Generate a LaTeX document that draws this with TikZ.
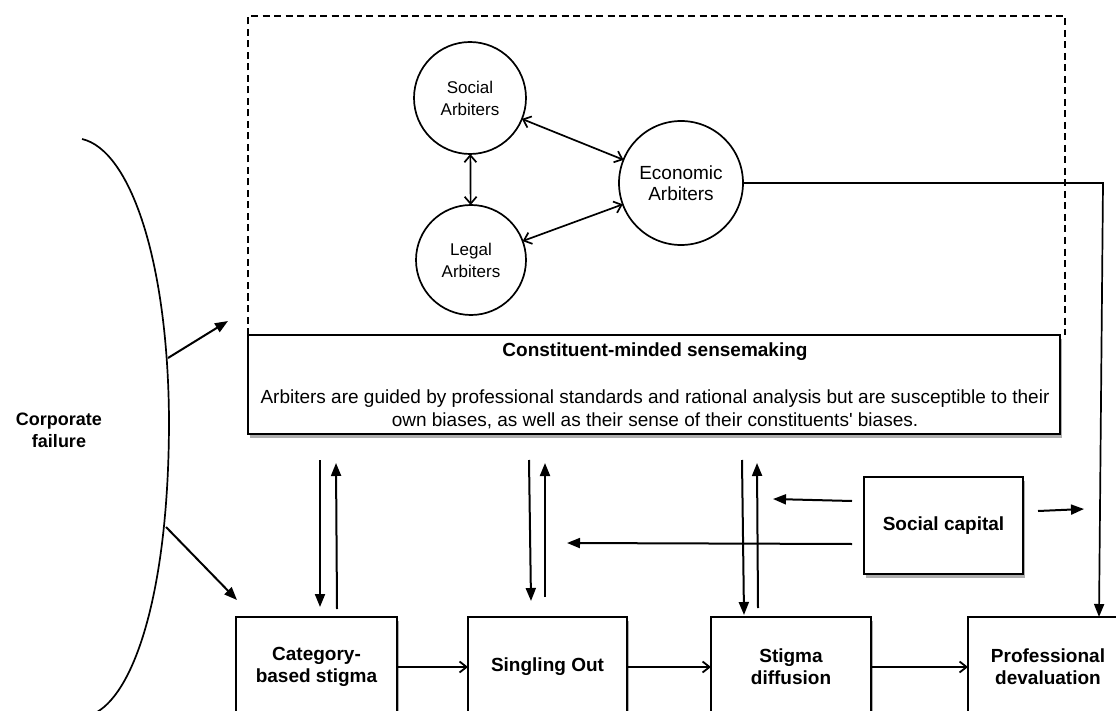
\documentclass[tikz,border=0pt]{standalone}
\usepackage{fontspec}
\setmainfont{Liberation Sans}
\usetikzlibrary{arrows.meta,shadows}
\begin{document}
\begin{tikzpicture}[x=1pt,y=-1pt,
  every node/.style={inner sep=0pt, outer sep=0pt},
  arbiter/.style={circle, draw, line width=1.7pt, minimum size=#1, align=center,
    font=\fontsize{17}{22}\selectfont},
  softshadow/.style={drop shadow={shadow xshift=2pt, shadow yshift=-3.5pt, opacity=0.45, fill=black!70}},
  block/.style={rectangle, draw, line width=2.2pt, fill=white, softshadow,
    minimum width=#1, minimum height=100pt, align=center,
    font=\bfseries\fontsize{19}{22}\selectfont},
  twoway/.style={{Straight Barb[length=7pt,width=12pt]}-{Straight Barb[length=7pt,width=12pt]}, line width=1.7pt},
  feed/.style={-{Triangle[length=13pt,width=10pt]}, line width=2pt},
  flow/.style={-{Straight Barb[length=7pt,width=11pt]}, line width=1.8pt},
  frame/.style={line width=1.9pt, dash pattern=on 7pt off 4.5pt},
]
\clip (0,0) rectangle (1116,711);
\fill[white] (0,0) rectangle (1116,711);

% arbiters
\node[arbiter=112pt] (soc) at (470,98) {Social\\Arbiters};
\node[arbiter=110pt] (leg) at (471,260) {Legal\\Arbiters};
\node[arbiter=124pt, font=\fontsize{19}{21.5}\selectfont] (eco) at (681,183) {Economic\\Arbiters};
\draw[twoway] (soc) -- (leg);
\draw[twoway] (soc) -- (eco);
\draw[twoway] (leg) -- (eco);

% sensemaking box with dashed frame above it
\node[rectangle, draw, line width=2.2pt, fill=white, softshadow,
  minimum width=812pt, minimum height=99pt, anchor=north west] (sense) at (248,335) {};
\draw[frame] (sense.north west) -- (248,16) -- (1065,16) -- (1065,335);
\node[font=\bfseries\fontsize{19}{21}\selectfont] (head) at (655,352) {Constituent-minded sensemaking};
\node[align=center, font=\fontsize{19}{23}\selectfont] (body) at (655,409)
  {Arbiters are guided by professional standards and rational analysis but are susceptible to their\\
   own biases, as well as their sense of their constituents\textquotesingle{} biases.};

% corporate failure
\node[align=center, font=\bfseries\fontsize{18}{22}\selectfont] (corp) at (59,430) {Corporate\\failure};
\draw[line width=1.7pt] (82,139) .. controls (130,150) and (168,260) .. (169,420)
  .. controls (169,590) and (135,690) .. (97,712);
\coordinate (c1) at (168,358);
\coordinate (c2) at (166,527);
\coordinate (t1) at (228,321);
\coordinate (t2) at (237,600);
\draw[feed] (c1) -- (t1);
\draw[feed] (c2) -- (t2);

% process boxes
\node[block=161pt] (cat) at (316.5,667) {Category-\\based stigma};
\node[block=159pt] (sing) at (547.5,667) {Singling Out};
\node[block=160pt] (stig) at (791,667) {Stigma\\diffusion};
\node[block=160pt] (prof) at (1048,667) {Professional\\devaluation};
\draw[flow] (cat) -- (sing);
\draw[flow] (sing) -- (stig);
\draw[flow] (stig) -- (prof);

% social capital
\node[block=159pt, minimum height=97pt] (cap) at (943.5,525.5) {Social capital};

% links between sensemaking and the process
\coordinate (a1) at (320,460);  \coordinate (a1e) at (320,607);
\coordinate (b1) at (337,609);  \coordinate (b1e) at (336,463);
\coordinate (a2) at (529,460);  \coordinate (a2e) at (531,601);
\coordinate (b2) at (545,597);  \coordinate (b2e) at (545,463);
\coordinate (a3) at (742,460);  \coordinate (a3e) at (744,615);
\coordinate (b3) at (758,608);  \coordinate (b3e) at (757,463);
\draw[feed] (a1) -- (a1e);
\draw[feed] (b1) -- (b1e);
\draw[feed] (a2) -- (a2e);
\draw[feed] (b2) -- (b2e);
\draw[feed] (a3) -- (a3e);
\draw[feed] (b3) -- (b3e);

% social capital effects
\coordinate (s1) at (852,501);   \coordinate (s1e) at (773,499);
\coordinate (s2) at (852,544);   \coordinate (s2e) at (567,543);
\coordinate (s3) at (1038,511);  \coordinate (s3e) at (1084,509);
\draw[feed] (s1) -- (s1e);
\draw[feed] (s2) -- (s2e);
\draw[feed] (s3) -- (s3e);

% economic arbiters to professional devaluation
\coordinate (bend) at (1103,183);
\draw[-{Triangle[length=13pt,width=10pt]}, line width=1.7pt]
  (eco.east) -- (bend) -- (1099,617);
\end{tikzpicture}
\end{document}
